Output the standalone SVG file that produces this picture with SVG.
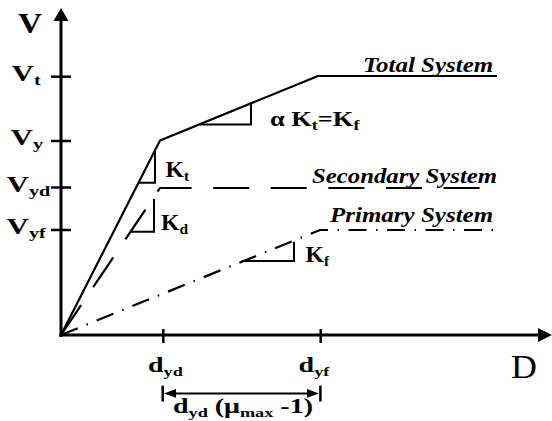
<svg xmlns="http://www.w3.org/2000/svg" width="552" height="421" viewBox="0 0 552 421">
<style>
.ax{stroke:#000;stroke-width:3;fill:none}
.tk{stroke:#000;stroke-width:2.5;fill:none}
.ln{stroke:#000;stroke-width:2.2;fill:none;stroke-linejoin:round}
.sec{stroke-dasharray:36 21.6}
.pri{stroke-dasharray:18 9.5 1.5 9.5}
.tri{stroke:#000;stroke-width:2;fill:none}
.lb{font-family:"Liberation Serif","Times New Roman",serif;font-weight:bold;fill:#000}
.it{font-family:"Liberation Serif","Times New Roman",serif;font-weight:bold;font-style:italic;font-size:21px;fill:#000}
.rg{font-family:"Liberation Serif","Times New Roman",serif;fill:#000}
</style>
<rect width="552" height="421" fill="#fff"/>
<g id="axes">
<line class="ax" x1="61" y1="337" x2="61" y2="18"/>
<polygon points="61,8 53.5,21 68.5,21" fill="#000"/>
<line class="ax" x1="59.5" y1="335" x2="540" y2="335"/>
<polygon points="552,335 538,328 538,342" fill="#000"/>
<line class="tk" x1="51" y1="76.7" x2="71" y2="76.7"/>
<line class="tk" x1="51" y1="141" x2="71" y2="141"/>
<line class="tk" x1="51" y1="187.5" x2="71" y2="187.5"/>
<line class="tk" x1="51" y1="230" x2="71" y2="230"/>
<line class="tk" x1="163.3" y1="329" x2="163.3" y2="343"/>
<line class="tk" x1="320.7" y1="329" x2="320.7" y2="343"/>
</g>
<g id="connectors">
<polyline id="total" class="ln" points="61,335 160,140.5 318,76 497,76"/>
<path id="secondary" class="ln sec" d="M61,335 L160,188 L497,188"/>
<path id="primary" class="ln pri" d="M61,335 L320,230 L497,230"/>
<polyline class="tri" points="200,124.5 251,124.5 251,103.5"/>
<polyline class="tri" points="138.3,182.7 155,182.7 155,150"/>
<polyline class="tri" points="130.6,231.7 154,231.7 154,199"/>
<polyline class="tri" points="241.7,261 294,261 294,241.7"/>
</g>
<g id="dimension">
<line class="tk" x1="162.7" y1="385.6" x2="162.7" y2="401.5"/>
<line class="tk" x1="320.4" y1="385.6" x2="320.4" y2="401.5"/>
<line class="tri" x1="170" y1="393.4" x2="313" y2="393.4"/>
<polygon points="164,393.4 176,389 176,397.8" fill="#000"/>
<polygon points="319,393.4 307,389 307,397.8" fill="#000"/>
</g>
<g id="axis-labels">
<text class="lb" font-size="29" transform="translate(18,33) scale(1.15,1)">V</text>
<text class="rg" font-size="33" transform="translate(511,378) scale(1.09,1)">D</text>
</g>
<g id="v-labels">
<text class="lb" font-size="23" transform="translate(11.5,81) scale(1.35,1)">V<tspan font-size="15" dy="4">t</tspan></text>
<text class="lb" font-size="23" transform="translate(10.5,145) scale(1.35,1)">V<tspan font-size="15" dy="4">y</tspan></text>
<text class="lb" font-size="23" transform="translate(6.5,191.7) scale(1.35,1)">V<tspan font-size="15" dy="4">yd</tspan></text>
<text class="lb" font-size="23" transform="translate(6.5,234.3) scale(1.35,1)">V<tspan font-size="15" dy="4">yf</tspan></text>
</g>
<g id="k-labels">
<text class="lb" font-size="23" transform="translate(165.5,177) scale(1.03,1)">K<tspan font-size="15" dy="4">t</tspan></text>
<text class="lb" font-size="23" transform="translate(161,229.8) scale(1.03,1)">K<tspan font-size="15" dy="4">d</tspan></text>
<text class="lb" font-size="23" transform="translate(305.5,262) scale(1.03,1)">K<tspan font-size="15" dy="4">f</tspan></text>
<text class="lb" font-size="22" transform="translate(270,126) scale(1.2,1)">α K<tspan font-size="15" dy="4">t</tspan><tspan dy="-4">=K</tspan><tspan font-size="15" dy="4">f</tspan></text>
</g>
<g id="system-labels">
<text class="it" transform="translate(363,72.3) scale(1.19,1)">Total System</text>
<text class="it" transform="translate(312,183) scale(1.18,1)">Secondary System</text>
<text class="it" transform="translate(330,221.7) scale(1.19,1)">Primary System</text>
</g>
<g id="d-labels">
<text class="lb" font-size="20" transform="translate(148,371.5) scale(1.4,1)">d<tspan font-size="13" dy="4">yd</tspan></text>
<text class="lb" font-size="20" transform="translate(298.6,371.5) scale(1.4,1)">d<tspan font-size="13" dy="4">yf</tspan></text>
<text class="lb" font-size="20" transform="translate(173,413) scale(1.4,1)">d<tspan font-size="13" dy="4">yd</tspan><tspan dy="-4"> (μ</tspan><tspan font-size="13" dy="4">max</tspan><tspan dy="-4"> -1)</tspan></text>
</g>
</svg>
